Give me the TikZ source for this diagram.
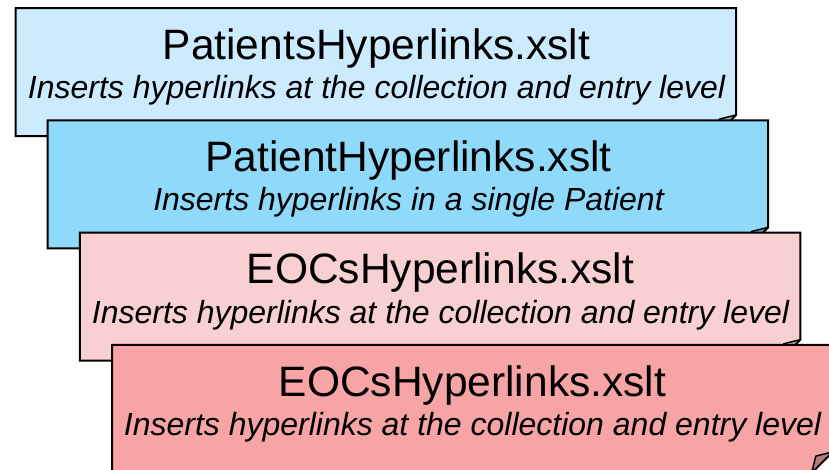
\documentclass[tikz,border=0pt]{standalone}
\usepackage{fontspec}
\setmainfont{Liberation Sans}
\definecolor{cA}{RGB}{204,235,255}
\definecolor{cB}{RGB}{143,217,251}
\definecolor{cC}{RGB}{249,208,210}
\definecolor{cD}{RGB}{246,164,165}
\tikzset{
  boxline/.style={draw=black, line width=2pt, line join=miter},
  foldline/.style={draw=black, line width=1.5pt, line join=round},
  titletext/.style={anchor=base, inner sep=0pt, font=\fontsize{42.5}{42.5}\selectfont},
  subtext/.style={anchor=base, inner sep=0pt, font=\fontsize{32}{32}\selectfont\itshape}
}
\begin{document}
\begin{tikzpicture}[x=1pt,y=-1pt]
\useasboundingbox (0,0) rectangle (829,469);
\foreach \i/\c in {0/cA,1/cB,2/cC,3/cD}{
  \pgfmathsetmacro\L{15.5+32.2*\i}
  \pgfmathsetmacro\T{8+112.3*\i}
  \pgfmathsetmacro\R{\L+720.5}
  \pgfmathsetmacro\B{\T+128}
  \pgfmathsetmacro\F{21}
  \filldraw[boxline, fill=\c] (\L,\T) -- (\R,\T) -- (\R,\B-\F) -- (\R-\F,\B) -- (\L,\B) -- cycle;
  \filldraw[foldline, fill=\c!75!black] (\R-\F,\B) -- (\R-0.8*\F,\B-0.8*\F) -- (\R,\B-\F) -- cycle;
}
\node[titletext] (t1) at (376.5,59.3) {PatientsHyperlinks.xslt};
\node[subtext] (s1) at (376.5,98.5) {Inserts hyperlinks at the collection and entry level};
\node[titletext] (t2) at (408.5,171.6) {PatientHyperlinks.xslt};
\node[subtext] (s2) at (408.5,210.8) {Inserts hyperlinks in a single Patient};
\node[titletext] (t3) at (440.5,283.9) {EOCsHyperlinks.xslt};
\node[subtext] (s3) at (440.5,323.1) {Inserts hyperlinks at the collection and entry level};
\node[titletext] (t4) at (472.5,396.2) {EOCsHyperlinks.xslt};
\node[subtext] (s4) at (472.5,435.4) {Inserts hyperlinks at the collection and entry level};
\end{tikzpicture}
\end{document}
